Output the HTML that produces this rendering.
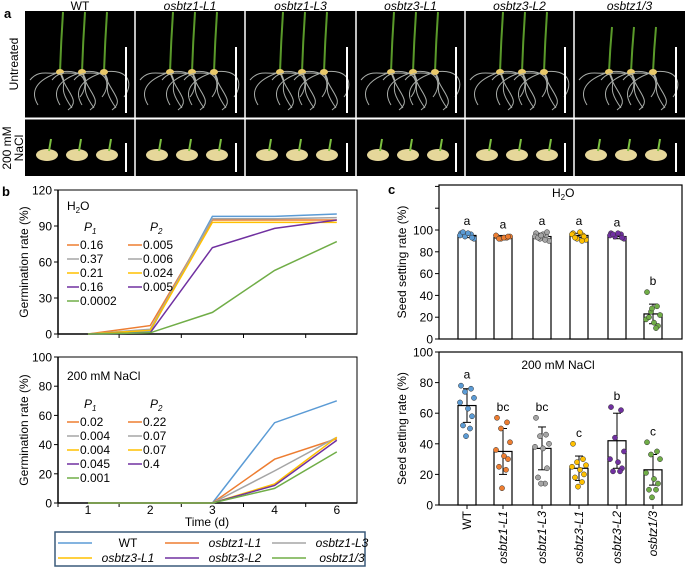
<!DOCTYPE html>
<html><head><meta charset="utf-8"><style>
html,body{margin:0;padding:0;background:#fff;}
svg{display:block;font-family:"Liberation Sans",Arial,sans-serif;}
</style></head><body>
<svg id="fig" width="685" height="570" viewBox="0 0 685 570" xmlns="http://www.w3.org/2000/svg">
<g id="pa"></g>
<g id="pb"></g>
<g id="pc"></g>
</svg>
<script>
// ===== data =====
const genotypes = ["WT","osbtz1-L1","osbtz1-L3","osbtz3-L1","osbtz3-L2","osbtz1/3"];
const colors = ["#5b9bd5","#ed7d31","#a5a5a5","#ffc000","#7030a0","#70ad47"];
const days = ["1","2","3","4","6"];
const h2oSeries = [
  [0,2,98,98,100],
  [0,7,95,95,95],
  [0,4,96,96,97],
  [0,3,93,93,93],
  [0,1,72,88,95],
  [0,1,18,53,77]
];
const naclSeries = [
  [0,0,0,55,70],
  [0,0,0,30,44],
  [0,0,0,22,45],
  [0,0,0,13,45],
  [0,0,0,12,43],
  [0,0,0,10,35]
];
const h2oP1 = ["0.16","0.37","0.21","0.16","0.0002"];
const h2oP2 = ["0.005","0.006","0.024","0.005"];
const naclP1 = ["0.02","0.004","0.004","0.045","0.001"];
const naclP2 = ["0.22","0.07","0.07","0.4"];
const h2oTicks = [0,30,60,90,120];
const naclTicks = [0,20,40,60,80,100];
const seedTicks = [0,20,40,60,80,100];
const h2oMeans = [95,93,94,95,94,23];
const h2oSD = [2,2,3,2,2,9];
const h2oLetters = ["a","a","a","a","a","b"];
const h2oPoints = [
  [97,96,94,92,95,97,93,98],
  [94,93,92,94,95,93,94,92],
  [97,95,92,90,94,96,98,93,91,95],
  [97,95,92,91,96,98,94,93,90],
  [97,96,94,92,95,97,93,96],
  [43,30,25,22,18,15,12,20,10,28]
];
const naclMeans = [65,35,37,24,42,23];
const naclSD = [11,15,14,8,18,10];
const naclLetters = ["a","bc","bc","c","b","c"];
const naclPoints = [
  [78,76,74,70,67,63,58,52,50,45],
  [57,54,50,41,36,32,30,25,23,11],
  [57,46,45,40,38,37,24,18,14,14],
  [40,30,28,26,25,23,20,18,15,12],
  [64,62,44,35,30,28,24,22,22],
  [41,35,33,30,21,17,14,10,10,5]
];

// ===== helpers =====
const NS="http://www.w3.org/2000/svg";
function mk(parent,tag,attrs,text){const e=document.createElementNS(NS,tag);for(const k in attrs)e.setAttribute(k,attrs[k]);if(text!==undefined)e.textContent=text;parent.appendChild(e);return e;}

// ===== panel a =====
const pa=document.getElementById('pa');
let t=mk(pa,'text',{x:4,y:18,'font-size':13,'font-weight':'bold'},'a');


const colX=[25,135,245,356,465,574,685];
mk(pa,'rect',{x:25,y:11,width:660,height:165,fill:'#000'});
for(let i=0;i<6;i++){
  const x0=colX[i],x1=colX[i+1];
  const lab=mk(pa,'text',{x:(x0+x1)/2,y:10,'text-anchor':'middle','font-size':12,'font-style':i?'italic':'normal'},genotypes[i]);
  
  
  const g=mk(pa,'g',{});
  
  
  for(let s=0;s<3;s++){
    const sx=x0+35+s*22, sy=72;
    const ht=(i==5?45:60);
    mk(g,'path',{d:`M${sx} ${sy} C${sx-25} ${sy+8} ${sx-30} ${sy+20} ${sx-22} ${sy+33} M${sx} ${sy} C${sx+10} ${sy+15} ${sx-5} ${sy+12} ${sx+12} ${sy+36} M${sx} ${sy} C${sx+25} ${sy-4} ${sx+30} ${sy+12} ${sx+20} ${sy+25} M${sx} ${sy} C${sx-10} ${sy+4} ${sx-20} ${sy-4} ${sx-30} ${sy+8} M${sx} ${sy} C${sx+5} ${sy+20} ${sx+22} ${sy+28} ${sx+8} ${sy+38}`,stroke:'#a8aca8','stroke-width':1,fill:'none'});
    mk(g,'path',{d:`M${sx} ${sy} Q${sx+1} ${sy-ht/2} ${sx+3} ${sy-ht}`,stroke:'#5a9a2a','stroke-width':2,fill:'none'});
    mk(g,'ellipse',{cx:sx,cy:sy,rx:4,ry:3,fill:'#e8c86a'});
    const nx=x0+22+s*30, ny=155;
    mk(g,'ellipse',{cx:nx,cy:ny,rx:11,ry:6,fill:'#e6d79a'});
    mk(g,'path',{d:`M${nx+2} ${ny-4} L${nx+4} ${ny-16}`,stroke:'#7cc040','stroke-width':2,fill:'none'});
  }
  mk(g,'line',{x1:x1-9,y1:47,x2:x1-9,y2:113,stroke:'#fff','stroke-width':2});
  mk(g,'line',{x1:x1-9,y1:143,x2:x1-9,y2:172,stroke:'#fff','stroke-width':2});
  if(i>0) mk(pa,'line',{x1:x0,y1:11,x2:x0,y2:176,stroke:'#fff','stroke-width':1.5});
}
mk(pa,'line',{x1:25,y1:118.5,x2:685,y2:118.5,stroke:'#fff','stroke-width':2});
t=mk(pa,'text',{transform:'translate(18,64) rotate(-90)','text-anchor':'middle','font-size':12},'Untreated');


t=mk(pa,'text',{transform:'translate(11,148) rotate(-90)','text-anchor':'middle','font-size':12},'200 mM');


mk(pa,'text',{transform:'translate(23,148) rotate(-90)','text-anchor':'middle','font-size':12},'NaCl');

// ===== panel b =====
const pb=document.getElementById('pb');
t=mk(pb,'text',{x:2,y:196,'font-size':13,'font-weight':'bold'},'b');


const bx0=58,bx1=357;
function xDay(i){return 88+i*62.2;}
function drawLineChart(g,series,ticks,yTop,yBot,maxV){
  const y=v=>yBot-(v/maxV)*(yBot-yTop);
  mk(g,'rect',{x:bx0,y:yTop,width:bx1-bx0,height:yBot-yTop,fill:'none',stroke:'#000','stroke-width':1});
  mk(g,'line',{x1:bx0,y1:yTop,x2:bx0,y2:yBot,stroke:'#000','stroke-width':1.5});
  mk(g,'line',{x1:bx0,y1:yBot,x2:bx1,y2:yBot,stroke:'#000','stroke-width':1.5});
  ticks.forEach(v=>{
    mk(g,'line',{x1:bx0-4,y1:y(v),x2:bx0,y2:y(v),stroke:'#000'});
    const tl=mk(g,'text',{x:bx0-6,y:y(v)+4.5,'text-anchor':'end','font-size':12},String(v));
    
    
  });
  for(let i=0;i<days.length;i++){const xt=(i==0?bx0:(xDay(i-1)+xDay(i))/2);mk(g,'line',{x1:xt,y1:yBot,x2:xt,y2:yBot+4,stroke:'#000'});}
  series.forEach((s,k)=>{
    const pts=s.map((v,i)=>xDay(i)+','+y(v)).join(' ');
    const pl=mk(g,'polyline',{points:pts,fill:'none',stroke:colors[k],'stroke-width':1.5});
    
    
  });
  const yt=mk(g,'text',{transform:`translate(28,${(yTop+yBot)/2}) rotate(-90)`,'text-anchor':'middle','font-size':12},'Germination rate (%)');
  
  
}
function drawPLegend(g,p1,p2,yP){
  let a=mk(g,'text',{x:84,y:yP,'font-size':12,'font-style':'italic'},'P');
  mk(a,'tspan',{'font-size':8,dy:3},'1');
  
  a=mk(g,'text',{x:150,y:yP,'font-size':12,'font-style':'italic'},'P');
  mk(a,'tspan',{'font-size':8,dy:3},'2');
  
  p1.forEach((p,i)=>{const yy=yP+18+i*14;
    mk(g,'line',{x1:67,y1:yy-4,x2:79,y2:yy-4,stroke:colors[i+1],'stroke-width':1.5});
    const e=mk(g,'text',{x:80,y:yy,'font-size':12},p);
    
    });
  p2.forEach((p,i)=>{const yy=yP+18+i*14;
    mk(g,'line',{x1:128,y1:yy-4,x2:142,y2:yy-4,stroke:colors[i+1],'stroke-width':1.5});
    const e=mk(g,'text',{x:143,y:yy,'font-size':12},p);
    
    });
}
const gTop=mk(pb,'g',{});
drawLineChart(gTop,h2oSeries,h2oTicks,190,334,120);
t=mk(gTop,'text',{x:67,y:210,'font-size':12},'H');mk(t,'tspan',{'font-size':8,dy:3},'2');mk(t,'tspan',{dy:-3},'O');

drawPLegend(gTop,h2oP1,h2oP2,231);
const gBot=mk(pb,'g',{});
drawLineChart(gBot,naclSeries,naclTicks,357,503,100);
t=mk(gBot,'text',{x:67,y:380,'font-size':12},'200 mM NaCl');

drawPLegend(gBot,naclP1,naclP2,408);
days.forEach((d,i)=>{const e=mk(pb,'text',{x:xDay(i),y:514,'text-anchor':'middle','font-size':12},d);
  });
t=mk(pb,'text',{x:207,y:526,'text-anchor':'middle','font-size':12},'Time (d)');

const lg=mk(pb,'g',{});
mk(lg,'rect',{x:55,y:532,width:310,height:34,fill:'#fff',stroke:'#3a5a7a','stroke-width':1.5});
genotypes.forEach((gn,i)=>{const col=i%3,row=Math.floor(i/3);
  const lx=58+col*107, ly=544+row*15;
  const e=mk(lg,'g',{});
  
  
  mk(e,'line',{x1:lx,y1:ly-1,x2:lx+34,y2:ly-1,stroke:colors[i],'stroke-width':1.5});
  mk(e,'text',{x:lx+70,y:ly+3,'text-anchor':'middle','font-size':12,'font-style':i?'italic':'normal'},gn);
});

// ===== panel c =====
const pc=document.getElementById('pc');
t=mk(pc,'text',{x:388,y:194,'font-size':13,'font-weight':'bold'},'c');

const cx0=439,cx1=682;
const barX=[467,503,542,579,617,653];
const jit=[-6,4,-2,7,-7,1,5,-4,3,-1];
function drawBars(g,means,sd,pts,letters,yTop,yZero,y100,extraTicks){
  const y=v=>yZero-(v/100)*(yZero-y100);
  mk(g,'rect',{x:cx0,y:yTop,width:cx1-cx0,height:yZero-yTop,fill:'none',stroke:'#000','stroke-width':1.2});
  seedTicks.concat(extraTicks).forEach(v=>{mk(g,'line',{x1:cx0-4,y1:y(v),x2:cx0,y2:y(v),stroke:'#000'});});
  seedTicks.forEach(v=>{const e=mk(g,'text',{x:cx0-6,y:y(v)+4.5,'text-anchor':'end','font-size':12},String(v));
    });
  means.forEach((m,i)=>{
    const b=mk(g,'rect',{x:barX[i]-9,y:y(m),width:18,height:yZero-y(m),fill:'#fff',stroke:'#000','stroke-width':1.2});
    
    
    mk(g,'line',{x1:barX[i],y1:y(m+sd[i]),x2:barX[i],y2:y(m-sd[i]),stroke:'#000'});
    mk(g,'line',{x1:barX[i]-4,y1:y(m+sd[i]),x2:barX[i]+4,y2:y(m+sd[i]),stroke:'#000'});
    mk(g,'line',{x1:barX[i]-4,y1:y(m-sd[i]),x2:barX[i]+4,y2:y(m-sd[i]),stroke:'#000'});
    pts[i].forEach((v,j)=>{const d=mk(g,'circle',{cx:barX[i]+jit[j%10],cy:y(v),r:2.6,fill:colors[i],stroke:'#333','stroke-width':0.5});
      });
    const top=Math.max(...pts[i],m+sd[i]);
    const l=mk(g,'text',{x:barX[i],y:y(top)-7,'text-anchor':'middle','font-size':12},letters[i]);
    
  });
  const yt=mk(g,'text',{transform:`translate(406,${(yTop+yZero)/2}) rotate(-90)`,'text-anchor':'middle','font-size':12},'Seed setting rate (%)');
  
}
const gc1=mk(pc,'g',{});
drawBars(gc1,h2oMeans,h2oSD,h2oPoints,h2oLetters,185,339,230,[120,140]);
t=mk(gc1,'text',{x:552,y:197,'font-size':12},'H');mk(t,'tspan',{'font-size':8,dy:3},'2');mk(t,'tspan',{dy:-3},'O');

const gc2=mk(pc,'g',{});
drawBars(gc2,naclMeans,naclSD,naclPoints,naclLetters,352,505,352,[]);
t=mk(gc2,'text',{x:558,y:369,'text-anchor':'middle','font-size':12},'200 mM NaCl');

genotypes.forEach((gn,i)=>{mk(pc,'line',{x1:barX[i],y1:505,x2:barX[i],y2:509,stroke:'#000'});
  const e=mk(pc,'text',{transform:`translate(${barX[i]+4},511) rotate(-90)`,'text-anchor':'end','font-size':12,'font-style':i?'italic':'normal'},gn);
  });
</script>
</body></html>
